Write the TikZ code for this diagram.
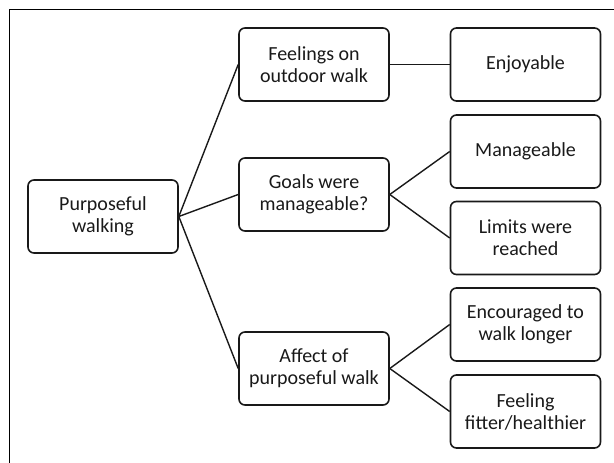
\documentclass[tikz,border=0pt]{standalone}
\usepackage{fontspec}
\setmainfont{Carlito}
\begin{document}
\begin{tikzpicture}[x=1pt,y=-1pt,
  box/.style={draw=black!90, line width=1.6pt, rounded corners=6pt, minimum width=150pt, minimum height=73pt, inner sep=0pt, align=center, font=\fontsize{20}{22}\selectfont, text=black!90},
  link/.style={draw=black!90, line width=1.4pt}]
\useasboundingbox (0,0) rectangle (614,463);
\draw[line width=1pt] (9.5,463) -- (9.5,9.5) -- (614,9.5);
\node[box] (root) at (103,216.5) {Purposeful\\walking};
\node[box] (feel) at (314,64.5) {Feelings on\\outdoor walk};
\node[box] (goal) at (314,194.5) {Goals were\\manageable?};
\node[box] (aff) at (314,368.5) {Affect of\\purposeful walk};
\node[box] (enj) at (525.5,64.5) {Enjoyable};
\node[box] (man) at (525.5,151.5) {Manageable};
\node[box] (lim) at (525.5,238) {Limits were\\reached};
\node[box] (enc) at (525.5,324.5) {Encouraged to\\walk longer};
\node[box] (fit) at (525.5,411.5) {Feeling\\fitter/healthier};
\draw[link] (root.east) -- (feel.west);
\draw[link] (root.east) -- (goal.west);
\draw[link] (root.east) -- (aff.west);
\draw[link] (feel.east) -- (enj.west);
\draw[link] (goal.east) -- (man.west);
\draw[link] (goal.east) -- (lim.west);
\draw[link] (aff.east) -- (enc.west);
\draw[link] (aff.east) -- (fit.west);
\end{tikzpicture}
\end{document}
